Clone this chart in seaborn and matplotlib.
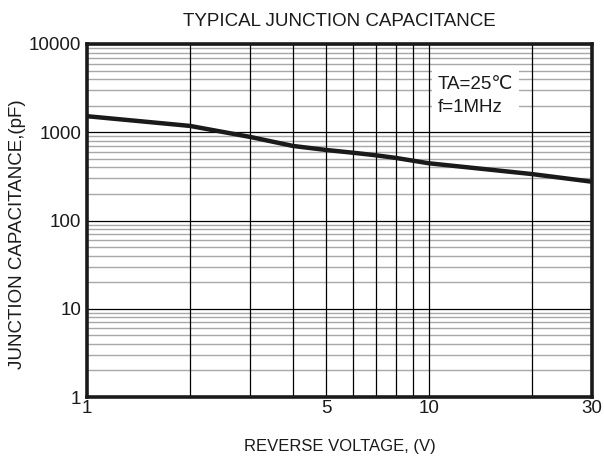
import matplotlib
matplotlib.use("Agg")
import matplotlib.pyplot as plt
import matplotlib.ticker as mticker
import seaborn as sns
import pandas as pd

# values
voltage = [1, 2, 3, 4, 5, 6, 7, 8, 10, 20, 30]
capacitance = [1520, 1180, 885, 700, 630, 586, 548, 512, 445, 336, 275]

x_ticks = [1, 5, 10, 30]
x_tick_labels = ["1", "5", "10", "30"]
y_ticks = [1, 10, 100, 1000, 10000]
y_tick_labels = ["1", "10", "100", "1000", "10000"]

sns.set_style("white")
plt.rcParams['font.family'] = ['Liberation Sans', 'DejaVu Sans']

df = pd.DataFrame({"V": voltage, "C": capacitance})

fig = plt.figure(figsize=(6.04, 4.58), dpi=100)
ax = fig.add_axes([87/604, 1-397/458, (592-87)/604, (397-44)/458])

ax.set_xscale("log")
ax.set_yscale("log")
ax.set_xlim(1, 30)
ax.set_ylim(1, 10000)

# grid: gray minor horizontals, black decades and verticals
for dec in [1, 10, 100, 1000]:
    for m in range(2, 10):
        ax.axhline(dec*m, color="#a8a8a8", lw=1.0, zorder=1)
    ax.axhline(dec*10, color="black", lw=0.9, zorder=1)
for v in [2, 3, 4, 5, 6, 7, 8, 9, 10, 20]:
    ax.axvline(v, color="black", lw=0.9, zorder=1)

sns.lineplot(data=df, x="V", y="C", color="#1a1a1a", lw=3.2, ax=ax, zorder=3)

ax.set_xticks(x_ticks)
ax.set_xticklabels(x_tick_labels)
ax.set_yticks(y_ticks)
ax.set_yticklabels(y_tick_labels)
ax.xaxis.set_minor_locator(mticker.NullLocator())
ax.yaxis.set_minor_locator(mticker.NullLocator())
ax.tick_params(axis="both", length=0, labelsize=13.5, colors="#1a1a1a", pad=2)
ax.tick_params(axis="y", pad=4)

for s in ax.spines.values():
    s.set_linewidth(2.6)
    s.set_color("#1a1a1a")
    s.set_zorder(5)

ax.set_xlabel("REVERSE VOLTAGE, (V)", fontsize=12, labelpad=16, color="#1a1a1a")
ax.set_ylabel("JUNCTION CAPACITANCE,(pF)", fontsize=13.5, color="#1a1a1a")
ax.yaxis.set_label_coords(-0.12, 0.46)
ax.set_title("TYPICAL JUNCTION CAPACITANCE", fontsize=13.5, pad=13, color="#1a1a1a")

ax.text(0.695, 0.91, "TA=25\u2103\nf=1MHz", transform=ax.transAxes,
        fontsize=13.5, color="#1a1a1a", va="top", ha="left", linespacing=1.45,
        bbox=dict(facecolor="white", edgecolor="none", pad=4), zorder=4)

fig.savefig("out.png", dpi=100)
